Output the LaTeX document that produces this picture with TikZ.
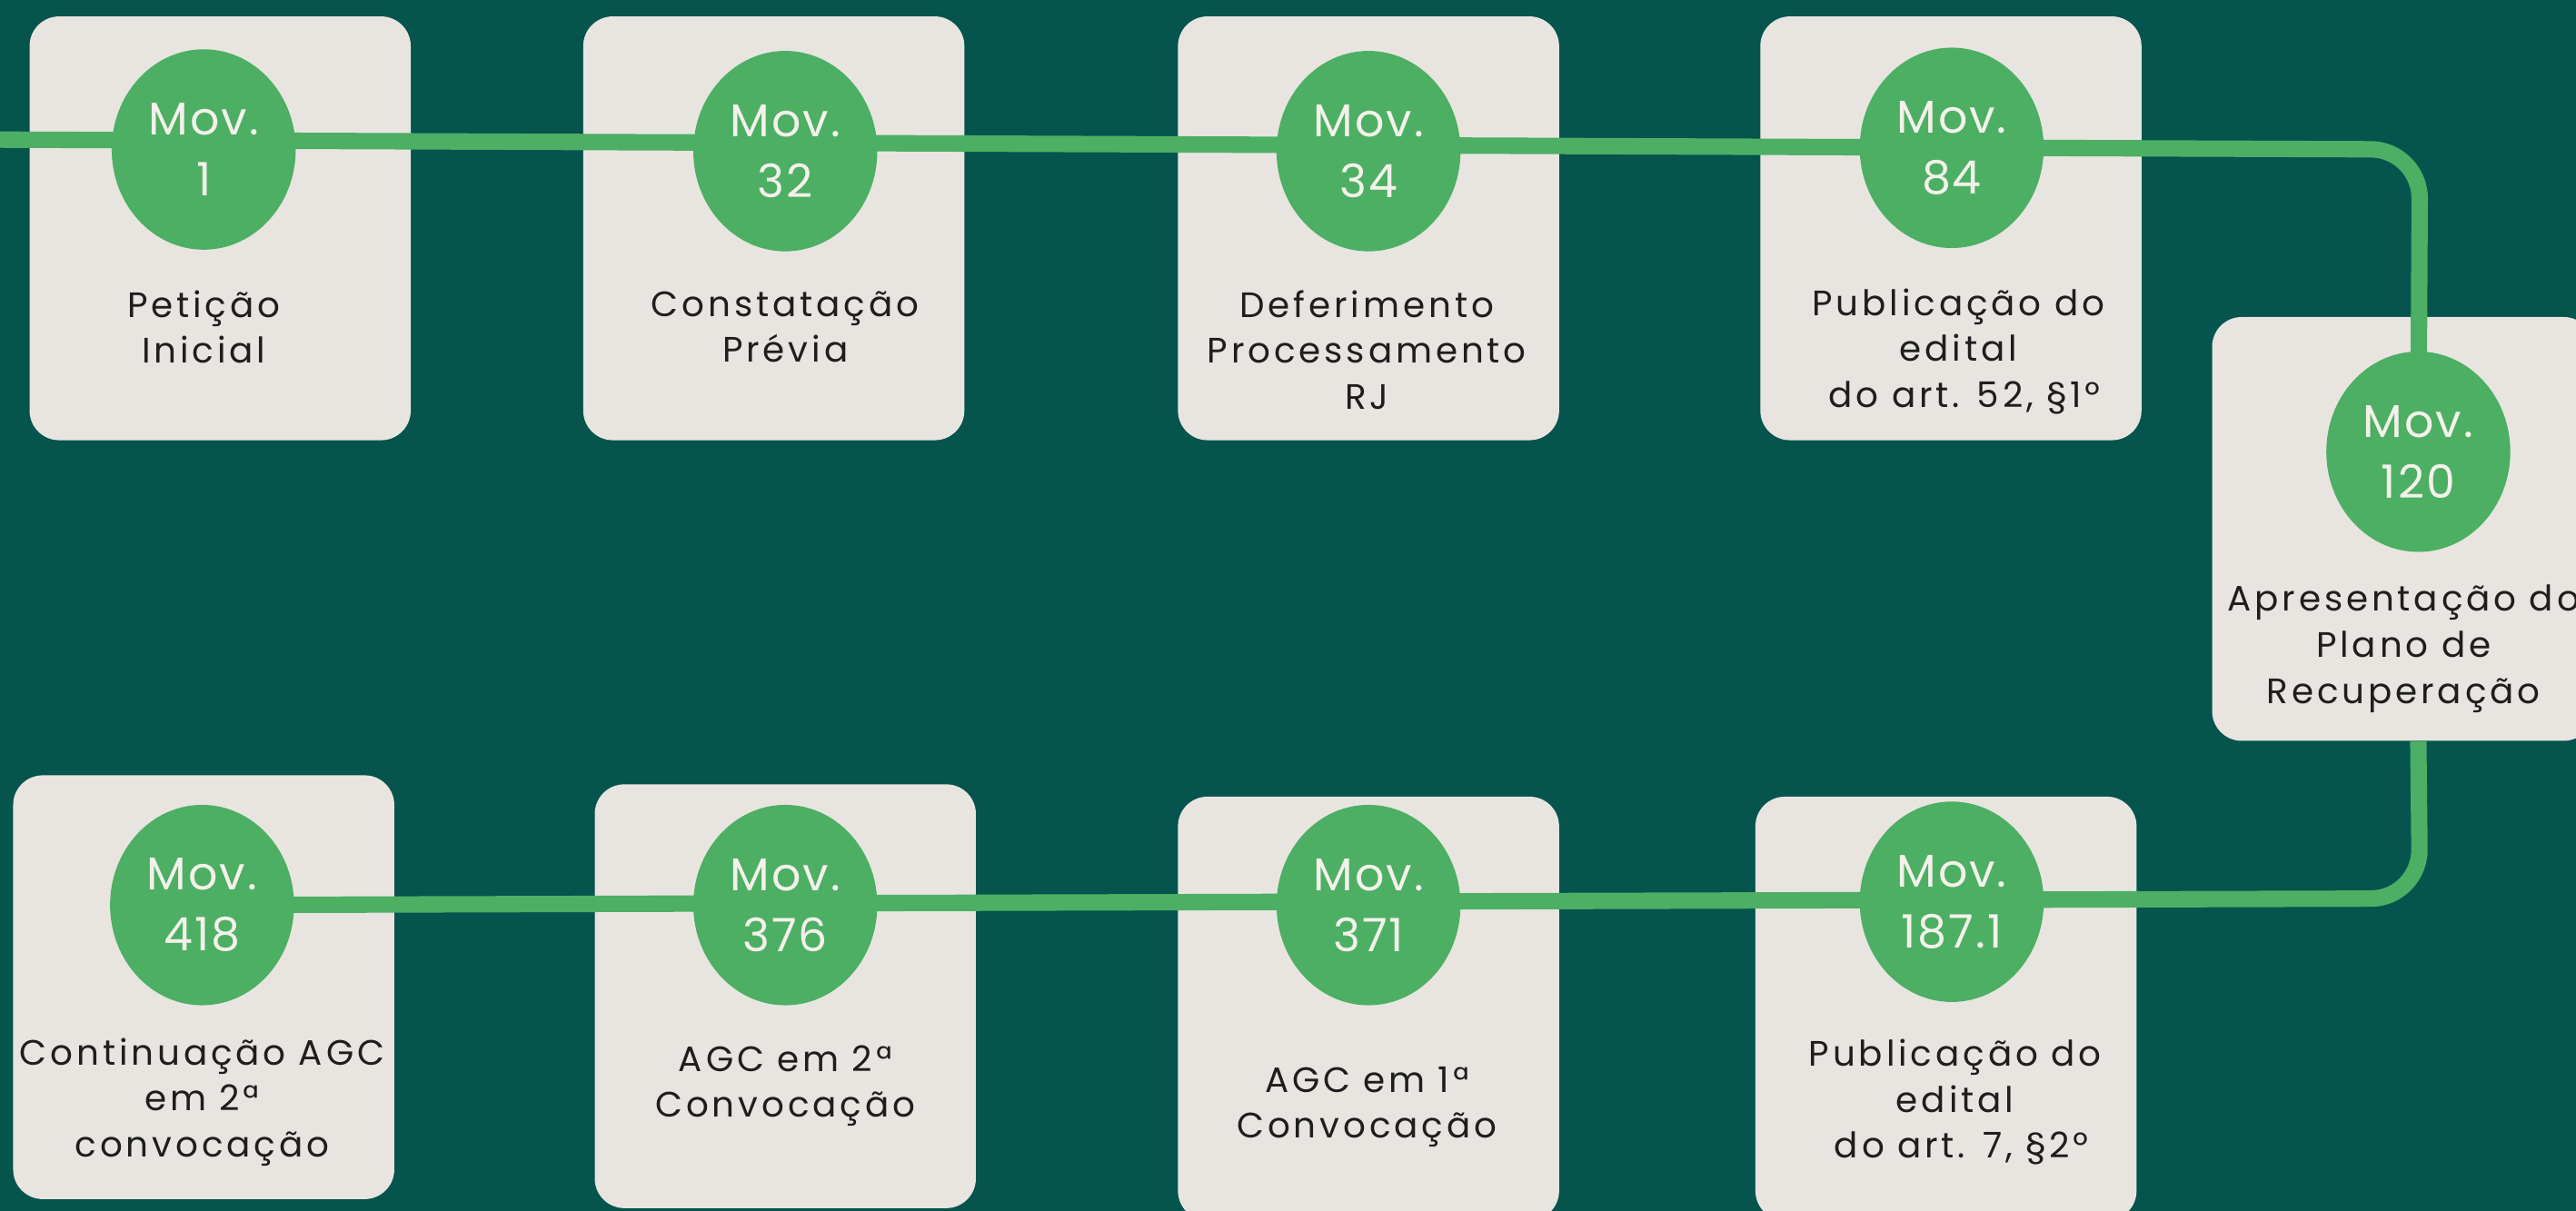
\documentclass[tikz,border=0pt]{standalone}
\usepackage{fontspec}
\usetikzlibrary{shapes.geometric}
\newfontfamily\lblfont[LetterSpace=10]{Poppins}
\newfontfamily\movfont[LetterSpace=4]{Poppins}
\definecolor{bgteal}{HTML}{05544E}
\definecolor{boxgray}{HTML}{E8E5E1}
\definecolor{movgreen}{HTML}{4CAF63}
\definecolor{txtdark}{HTML}{1E1E1E}
\definecolor{movtxt}{HTML}{F3F1EA}
\pgfdeclarelayer{boxes}
\pgfdeclarelayer{lines}
\pgfsetlayers{boxes,lines,main}
\tikzset{
  x=1pt, y=-1pt,
  card/.style={fill=boxgray, draw=none, rounded corners=18pt, minimum width=232pt, minimum height=258pt, inner sep=0pt},
  movnode/.style={ellipse, fill=movgreen, draw=none, minimum width=112pt, minimum height=122pt, inner sep=0pt, text=movtxt, align=center, font=\movfont\fontsize{28}{37}\selectfont},
  lbl/.style={align=center, text=txtdark, inner sep=0pt, font=\lblfont\fontsize{21.5}{28}\selectfont},
  conn/.style={draw=movgreen, line width=10pt, rounded corners=30pt},
}
\begin{document}
\begin{tikzpicture}
\useasboundingbox (0,0) rectangle (1568,737);

% circles
\node[movnode] (c1)   at (124,91)  {Mov.\\1};
\node[movnode] (c32)  at (478,92)  {Mov.\\32};
\node[movnode] (c34)  at (833,92)  {Mov.\\34};
\node[movnode] (c84)  at (1188,90) {Mov.\\84};
\node[movnode] (c120) at (1472,275) {Mov.\\120};
\node[movnode] (c418) at (123,551) {Mov.\\418};
\node[movnode] (c376) at (478,551) {Mov.\\376};
\node[movnode] (c371) at (833,551) {Mov.\\371};
\node[movnode] (c187) at (1188,549) {Mov.\\187.1};

% labels
\node[lbl] (l1)   at (124,199)  {Petição\\Inicial};
\node[lbl] (l32)  at (478,199)  {Constatação\\Prévia};
\node[lbl] (l34)  at (832,213)  {Deferimento\\Processamento\\RJ};
\node[lbl] (l84)  at (1192,214) {Publicação do\\edital\\\ do art. 52, §1º};
\node[lbl] (l120) at (1463,395) {Apresentação do\\Plano de\\Recuperação};
\node[lbl] (l418) at (123,671)  {Continuação AGC\\em 2ª\\convocação};
\node[lbl] (l376) at (478,661)  {AGC em 2ª\\Convocação};
\node[lbl] (l371) at (832,674)  {AGC em 1ª\\Convocação};
\node[lbl] (l187) at (1190,671) {Publicação do\\edital\\\ do art. 7, §2º};

\begin{pgfonlayer}{boxes}
\fill[bgteal] (0,0) rectangle (1568,737);
\node[card] (b1)   at (134,139)  {};
\node[card] (b32)  at (471,139)  {};
\node[card] (b34)  at (833,139)  {};
\node[card] (b84)  at (1187.5,139) {};
\node[card] (b120) at (1462.5,322) {};
\node[card] (b418) at (124,601)  {};
\node[card] (b376) at (478,606.5) {};
\node[card] (b371) at (833,614)  {};
\node[card] (b187) at (1184.5,614) {};
\end{pgfonlayer}

\coordinate (start) at (0,85);
\coordinate (k1) at (1473,91);
\coordinate (k2) at (1473,547);

\begin{pgfonlayer}{lines}
\draw[conn] (start) -- (k1) -- (c120.center);
\draw[conn] (b120.south -| c120) -- (k2) -- (c418.center);
\end{pgfonlayer}
\end{tikzpicture}
\end{document}
